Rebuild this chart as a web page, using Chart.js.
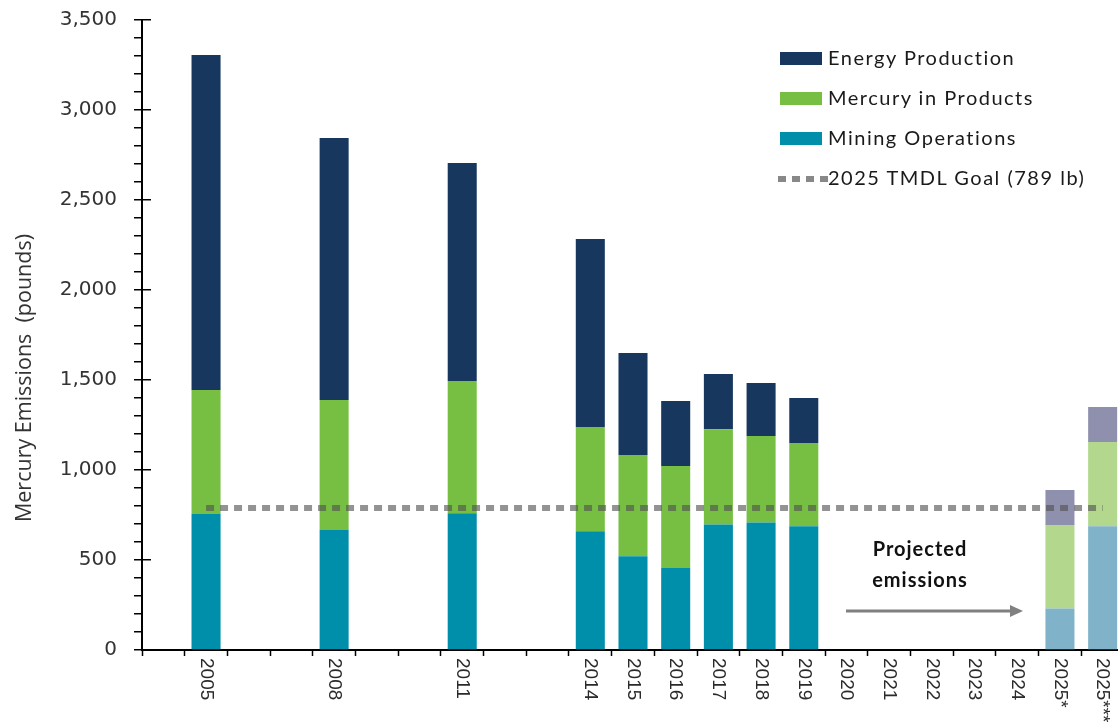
<!DOCTYPE html>
<html>
<head>
<meta charset="utf-8">
<script src="https://cdn.jsdelivr.net/npm/chart.js@4.4.1/dist/chart.umd.min.js"></script>
<style>
  html, body { margin:0; padding:0; background:#fff; overflow:hidden; width:1118px; height:725px; }
  #wrap { position:relative; width:1118px; height:725px; overflow:hidden; }
  #chart { position:absolute; left:0; top:0; }
  .lg-item { position:absolute; left:778px; height:24px; white-space:nowrap; font-family:Lato, "Open Sans", sans-serif; font-size:20px; letter-spacing:1.5px; color:#1a1a1a; line-height:24px; }
  .lg-box { position:absolute; left:2px; top:5px; width:42px; height:13px; }
  .lg-dash { position:absolute; left:0; top:9px; width:50px; height:6px;
             background:repeating-linear-gradient(to right, #888 0px, #888 8px, transparent 8px, transparent 14px); }
  .lg-text { position:absolute; left:50px; top:-2px; }
  #proj { position:absolute; left:855px; top:533px; width:130px; text-align:center; font-family:Lato, sans-serif; font-weight:bold; font-size:20px; letter-spacing:1px; line-height:31px; color:#111; }
  #arrow { position:absolute; left:0; top:0; }
</style>
</head>
<body>
<div id="wrap">
  <canvas id="chart" width="1124" height="725"></canvas>
  <div id="legend"></div>
  <div id="proj">Projected<br>emissions</div>
  <svg id="arrow" width="1118" height="725">
    <line x1="846" y1="611" x2="1012" y2="611" stroke="#808080" stroke-width="3"/>
    <polygon points="1010,605 1023,611 1010,617" fill="#808080"/>
  </svg>
</div>
<script>
// ---- data ----
const xTickLabels = ['', '2005', '', '', '2008', '', '', '2011', '', '', '2014', '2015', '2016', '2017', '2018', '2019', '2020', '2021', '2022', '2023', '2024', '2025*', '2025***'];
const seriesNames = ['Energy Production', 'Mercury in Products', 'Mining Operations'];
const goalName = '2025 TMDL Goal (789 lb)';
const miningOps    = [null, 755, null, null, 667, null, null, 760, null, null, 660, 521, 456, 697, 708, 688, null, null, null, null, null, 230, 688];
const mercuryProd  = [null, 689, null, null, 722, null, null, 734, null, null, 579, 562, 566, 530, 481, 462, null, null, null, null, null, 464, 468];
const energyProd   = [null, 1862, null, null, 1455, null, null, 1211, null, null, 1044, 567, 361, 306, 294, 250, null, null, null, null, null, 195, 194];
const tmdlGoal = 789;
const yMajorStep = 500;

// ---- styles ----
const solidColors = ['#17375e', '#77bf43', '#008fab'];
const projColors  = ['#8f90ad', '#b2d78d', '#80b3c9'];
const isProjected = i => xTickLabels[i].indexOf('*') !== -1;

function barSet(label, data, k) {
  return {
    type: 'bar', label, data, stack: 'em', order: 2,
    backgroundColor: ctx => isProjected(ctx.dataIndex) ? projColors[k] : solidColors[k],
    borderWidth: 0, barPercentage: 0.68, categoryPercentage: 1.0
  };
}

const xLabelPlugin = {
  id: 'xLabels',
  afterDraw(chart) {
    const xs = chart.scales.x, ctx = chart.ctx;
    ctx.save();
    ctx.font = '19px "Liberation Sans", Arial, sans-serif';
    ctx.fillStyle = '#2a2a2a';
    ctx.textAlign = 'left';
    ctx.textBaseline = 'middle';
    xTickLabels.forEach((lab, i) => {
      if (!lab) return;
      const x = xs.getPixelForValue(i);
      ctx.save();
      ctx.translate(x, xs.top + 8);
      ctx.rotate(Math.PI / 2);
      ctx.fillText(lab, 0, 0);
      ctx.restore();
    });
    ctx.restore();
  }
};

new Chart(document.getElementById('chart'), {
  data: {
    labels: xTickLabels,
    datasets: [
      barSet(seriesNames[2], miningOps, 2),
      barSet(seriesNames[1], mercuryProd, 1),
      barSet(seriesNames[0], energyProd, 0),
      {
        type: 'line', label: goalName, stack: 'goal', order: 0,
        data: xTickLabels.map((c, i) => i === 0 ? null : tmdlGoal),
        borderColor: 'rgba(80,80,80,0.62)', borderWidth: 6, borderDash: [8, 6],
        borderCapStyle: 'butt', pointRadius: 0, fill: false, tension: 0
      }
    ]
  },
  options: {
    responsive: false, animation: false,
    layout: { padding: { top: 20, right: 0, bottom: 0, left: 0 } },
    plugins: { legend: { display: false }, tooltip: { enabled: false } },
    scales: {
      x: {
        stacked: true, offset: true,
        grid: { display: true, drawOnChartArea: false, offset: true, tickLength: 6, tickColor: '#000', tickWidth: 1.5 },
        border: { display: true, color: '#000', width: 2 },
        ticks: { display: false },
        afterFit: s => { s.height = 75; }
      },
      y: {
        stacked: true, min: 0, max: 3500,
        grid: {
          display: true, drawOnChartArea: true, tickLength: 8, tickColor: '#000', tickWidth: 1.5,
          lineWidth: 1.5,
          color: c => (c.tick && c.tick.value > 0 && c.tick.value % yMajorStep === 0) ? '#000' : 'rgba(0,0,0,0)'
        },
        border: { display: true, color: '#000', width: 2, dash: [8, 5000] },
        ticks: {
          stepSize: 100, autoSkip: false, maxTicksLimit: 100, padding: 17,
          color: '#333', font: { family: '"DejaVu Sans"', size: 20 },
          callback: v => (v % yMajorStep === 0) ? v.toLocaleString('en-US') : ''
        },
        title: {
          display: true, text: 'Mercury Emissions  (pounds)\u2003\u2003\u2003\u2003',
          color: '#333', font: { family: '"Open Sans"', size: 21.5 }, padding: { top: 12, bottom: 0 }
        },
        afterFit: s => { s.width = 142; s.paddingTop = 0; s.paddingBottom = 0; }
      }
    }
  },
  plugins: [xLabelPlugin]
});

// ---- HTML legend built from the series names ----
const lg = document.getElementById('legend');
const rows = [[seriesNames[0], solidColors[0]], [seriesNames[1], solidColors[1]], [seriesNames[2], solidColors[2]], [goalName, null]];
rows.forEach((r, i) => {
  const d = document.createElement('div');
  d.className = 'lg-item';
  d.style.top = (47 + 40 * i) + 'px';
  const mark = r[1]
    ? '<span class="lg-box" style="background:' + r[1] + '"></span>'
    : '<span class="lg-dash"></span>';
  d.innerHTML = mark + '<span class="lg-text">' + r[0] + '</span>';
  lg.appendChild(d);
});
</script>
</body>
</html>
